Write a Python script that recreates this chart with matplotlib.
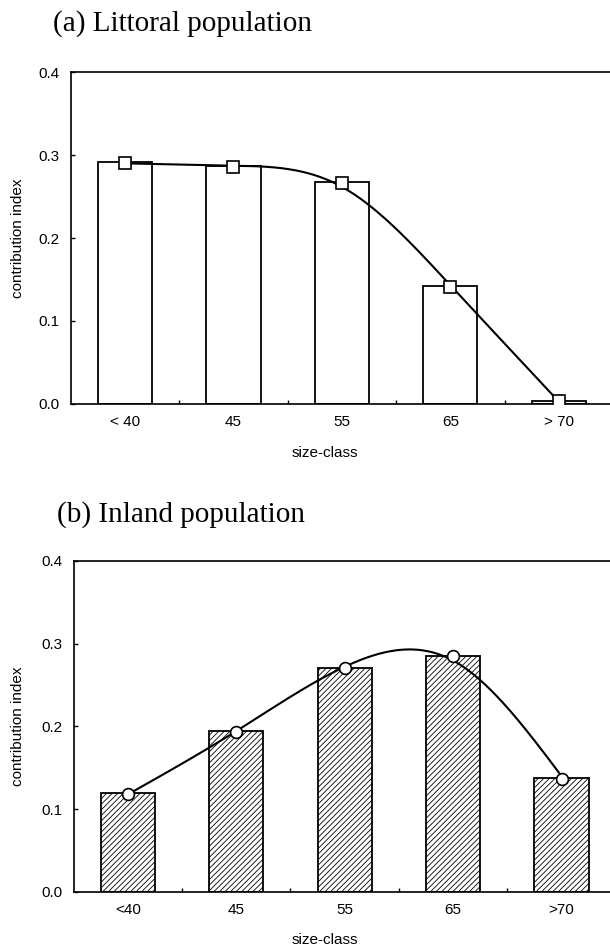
import numpy as np
import matplotlib
matplotlib.use("Agg")
from matplotlib import pyplot as plt
from matplotlib.ticker import FixedLocator, FormatStrFormatter

# size classes and contribution index
classes_a = ["< 40", "45", "55", "65", "> 70"]
bars_a = [0.291, 0.287, 0.267, 0.142, 0.003]
points_a = [0.290, 0.285, 0.266, 0.141, 0.003]

classes_b = ["<40", "45", "55", "65", ">70"]
bars_b = [0.119, 0.194, 0.271, 0.285, 0.138]
points_b = [0.118, 0.193, 0.271, 0.285, 0.137]

plt.rcParams["font.family"] = ["Liberation Sans", "DejaVu Sans"]
plt.rcParams["hatch.linewidth"] = 0.6

SMOOTH = 0.015  # small penalty, the printed curve does not hit every marker exactly


def smooth_spline(y, xs, lam=SMOOTH):
    # cubic smoothing spline on unit-spaced knots (Reinsch), then natural spline through fitted values
    y = np.asarray(y, float)
    n = len(y)
    x = np.arange(n, dtype=float)
    Q = np.zeros((n, n - 2))
    for j in range(n - 2):
        Q[j, j], Q[j + 1, j], Q[j + 2, j] = 1, -2, 1
    R = np.diag(np.full(n - 2, 2 / 3)) + np.diag(np.full(n - 3, 1 / 6), 1) + np.diag(np.full(n - 3, 1 / 6), -1)
    K = Q @ np.linalg.solve(R, Q.T)
    g = np.linalg.solve(np.eye(n) + lam * K, y)
    M = np.zeros(n)
    M[1:-1] = np.linalg.solve(R, Q.T @ g)
    i = np.clip(np.searchsorted(x, xs) - 1, 0, n - 2)
    a = x[i + 1] - xs
    b = xs - x[i]
    return M[i] * a**3 / 6 + M[i + 1] * b**3 / 6 + (g[i] - M[i] / 6) * a + (g[i + 1] - M[i + 1] / 6) * b


def panel(ax, labels, bars, points, marker, hatch):
    x = np.arange(len(labels))
    ax.bar(x, bars, width=0.5, facecolor="white", edgecolor="black",
           linewidth=1.3, hatch=hatch, zorder=2)
    xs = np.linspace(0, len(labels) - 1, 300)
    ax.plot(xs, smooth_spline(points, xs), color="black", lw=1.5, zorder=3)
    ax.plot(x, points, linestyle="none", marker=marker, ms=8.5,
            mfc="white", mec="black", mew=1.2, zorder=4)

    ax.set_xlim(-0.5, len(labels) - 0.5)
    ax.set_ylim(0, 0.4)
    ax.set_xticks(x)
    ax.set_xticklabels(labels)
    ax.xaxis.set_minor_locator(FixedLocator(x[:-1] + 0.5))
    ax.tick_params(axis="x", which="major", length=0, pad=8, labelsize=11)
    ax.tick_params(axis="x", which="minor", direction="in", length=3, width=1)
    ax.set_yticks([0, 0.1, 0.2, 0.3, 0.4])
    ax.yaxis.set_major_formatter(FormatStrFormatter("%.1f"))
    ax.tick_params(axis="y", direction="in", length=3, width=1, pad=8, labelsize=11)
    ax.spines["right"].set_visible(False)
    for s in ["left", "top", "bottom"]:
        ax.spines[s].set_linewidth(1.2)


fig = plt.figure(figsize=(6.1, 9.49), dpi=100)

ax1 = fig.add_axes([0.1159, 0.5743, 0.889, 0.3498])
panel(ax1, classes_a, bars_a, points_a, "s", None)

ax2 = fig.add_axes([0.1205, 0.0601, 0.8889, 0.3488])
panel(ax2, classes_b, bars_b, points_b, "o", "//////")

fig.text(53 / 610, 1 - 31 / 949, "(a) Littoral population", family="Liberation Serif",
         fontsize=21, ha="left", va="baseline")
fig.text(57 / 610, 1 - 522 / 949, "(b) Inland population", family="Liberation Serif",
         fontsize=21, ha="left", va="baseline")

fig.text(18 / 610, 1 - 238 / 949, "contribution index", rotation=90,
         ha="center", va="center", fontsize=11)
fig.text(18 / 610, 1 - 726 / 949, "contribution index", rotation=90,
         ha="center", va="center", fontsize=11)
fig.text(325 / 610, 1 - 453 / 949, "size-class", ha="center", va="center", fontsize=11)
fig.text(325 / 610, 1 - 940 / 949, "size-class", ha="center", va="center", fontsize=11)

fig.savefig("out.png", dpi=100)
